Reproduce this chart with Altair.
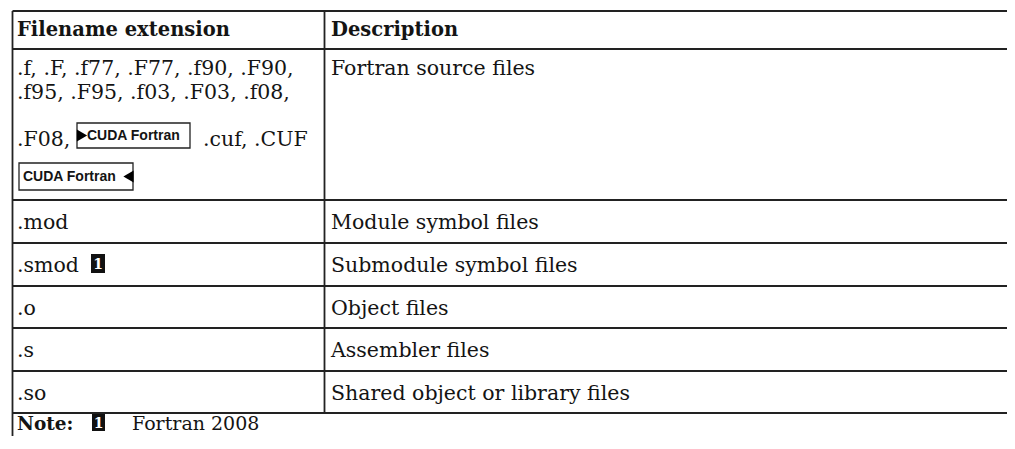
import altair as alt
import pandas as pd

# ---------------- content ----------------
HEADERS = ["Filename extension", "Description"]
SOURCE_EXT_LINES = [".f, .F, .f77, .F77, .f90, .F90,", ".f95, .F95, .f03, .F03, .f08,", ".F08,"]
CUF_EXT = ".cuf, .CUF"
BADGE = "CUDA Fortran"
EXTENSIONS = [".mod", ".smod", ".o", ".s", ".so"]
DESCRIPTIONS = ["Fortran source files", "Module symbol files", "Submodule symbol files",
                "Object files", "Assembler files", "Shared object or library files"]
NOTE_LABEL = "Note:"
NOTE_MARK = "1"
NOTE_TEXT = "Fortran 2008"

# ---------------- layout (page pixels) ----------------
W, H = 1007, 436          # drawable page extent (page margin 8px)
ROW_EDGES = [11, 49, 200, 243, 286, 328, 371, 413]
LEFT, DIVIDER, RIGHT = 12.5, 324.5, 1007
COL_X = [17, 331]
HEADER_BASE = 36
SRC_BASE = [75, 99, 146]
ROW_BASE_OFF = 29
NOTE_BASE = 430
SERIF = "DejaVu Serif"
SANS = "Liberation Sans"
LINE = "#222222"
TXT = "#141414"
BODY_SIZE = 20.5
HEAD_SIZE = 19.5
NOTE_SIZE = 18.5

xs = alt.Scale(domain=[8, W], nice=False, zero=False)
ys = alt.Scale(domain=[8, H], nice=False, zero=False, reverse=True)
X = lambda f: alt.X(f, type="quantitative", scale=xs, axis=None)
Y = lambda f: alt.Y(f, type="quantitative", scale=ys, axis=None)

# grid lines
hlines = pd.DataFrame({"x": LEFT, "x2": RIGHT, "y": ROW_EDGES, "y2": ROW_EDGES})
vlines = pd.DataFrame({"x": [LEFT, DIVIDER], "x2": [LEFT, DIVIDER],
                       "y": [ROW_EDGES[0], ROW_EDGES[0]], "y2": [H, ROW_EDGES[-1]]})
grid = alt.Chart(pd.concat([hlines, vlines])).mark_rule(color=LINE, strokeWidth=1.8).encode(
    x=X("x"), x2="x2", y=Y("y"), y2="y2")

# headers
hdr = alt.Chart(pd.DataFrame({"x": COL_X, "y": HEADER_BASE, "t": HEADERS})).mark_text(
    font=SERIF, fontWeight="bold", fontSize=HEAD_SIZE, align="left", baseline="alphabetic",
    color=TXT).encode(x=X("x"), y=Y("y"), text="t")

# body text (regular serif)
body_rows = []
for i, line in enumerate(SOURCE_EXT_LINES):
    body_rows.append({"x": COL_X[0], "y": SRC_BASE[i], "t": line})
body_rows.append({"x": 203, "y": SRC_BASE[2], "t": CUF_EXT})
body_rows.append({"x": COL_X[1], "y": SRC_BASE[0], "t": DESCRIPTIONS[0]})
for i, (ext, desc) in enumerate(zip(EXTENSIONS, DESCRIPTIONS[1:])):
    top = ROW_EDGES[2 + i]
    body_rows.append({"x": COL_X[0], "y": top + ROW_BASE_OFF, "t": ext})
    body_rows.append({"x": COL_X[1], "y": top + ROW_BASE_OFF, "t": desc})
body = alt.Chart(pd.DataFrame(body_rows)).mark_text(
    font=SERIF, fontSize=BODY_SIZE, align="left", baseline="alphabetic", color=TXT).encode(
    x=X("x"), y=Y("y"), text="t")

# footnote row
note_lbl = alt.Chart(pd.DataFrame({"x": [COL_X[0]], "y": [NOTE_BASE], "t": [NOTE_LABEL]})).mark_text(
    font=SERIF, fontWeight="bold", fontSize=NOTE_SIZE, align="left", baseline="alphabetic",
    color=TXT).encode(x=X("x"), y=Y("y"), text="t")
note_txt = alt.Chart(pd.DataFrame({"x": [132], "y": [NOTE_BASE], "t": [NOTE_TEXT]})).mark_text(
    font=SERIF, fontSize=NOTE_SIZE + 0.5, align="left", baseline="alphabetic",
    color=TXT).encode(x=X("x"), y=Y("y"), text="t")

# CUDA Fortran badges
badges = pd.DataFrame({"x": [77, 19], "x2": [190, 133], "y": [123, 163], "y2": [148, 190],
                       "tx": [87, 23], "ty": [136, 177], "t": [BADGE, BADGE]})
badge_box = alt.Chart(badges).mark_rect(fill="white", stroke="#222", strokeWidth=1.3).encode(
    x=X("x"), x2="x2", y=Y("y"), y2="y2")
badge_txt = alt.Chart(badges).mark_text(font=SANS, fontWeight="bold", fontSize=14, align="left",
                                        baseline="middle", color=TXT).encode(
    x=X("tx"), y=Y("ty"), text="t")
tri_r = alt.Chart(pd.DataFrame({"x": [82], "y": [135.5]})).mark_point(
    shape="triangle-right", filled=True, color="black", size=140, opacity=1).encode(x=X("x"), y=Y("y"))
tri_l = alt.Chart(pd.DataFrame({"x": [128.5], "y": [176.5]})).mark_point(
    shape="triangle-left", filled=True, color="black", size=140, opacity=1).encode(x=X("x"), y=Y("y"))

# footnote markers
marks = pd.DataFrame({"x": [91, 92], "x2": [105, 105], "y": [254, 414], "y2": [273, 431],
                      "t": [NOTE_MARK, NOTE_MARK]})
mk_box = alt.Chart(marks).mark_rect(fill="#111").encode(x=X("x"), x2="x2", y=Y("y"), y2="y2")
mk_txt = alt.Chart(marks).transform_calculate(
    cx="(datum.x + datum.x2) / 2", cy="(datum.y + datum.y2) / 2 + 1").mark_text(
    font=SERIF, fontWeight="bold", fontSize=14, align="center", baseline="middle",
    color="white").encode(x=X("cx"), y=Y("cy"), text="t")

chart = alt.layer(grid, hdr, body, note_lbl, note_txt, badge_box, badge_txt, tri_r, tri_l,
                  mk_box, mk_txt).properties(
    width=W - 8, height=H - 8, autosize="none", padding=0, background="white"
).configure_view(stroke=None)

chart.save("out.html", embed_options={"renderer": "svg", "actions": False})
